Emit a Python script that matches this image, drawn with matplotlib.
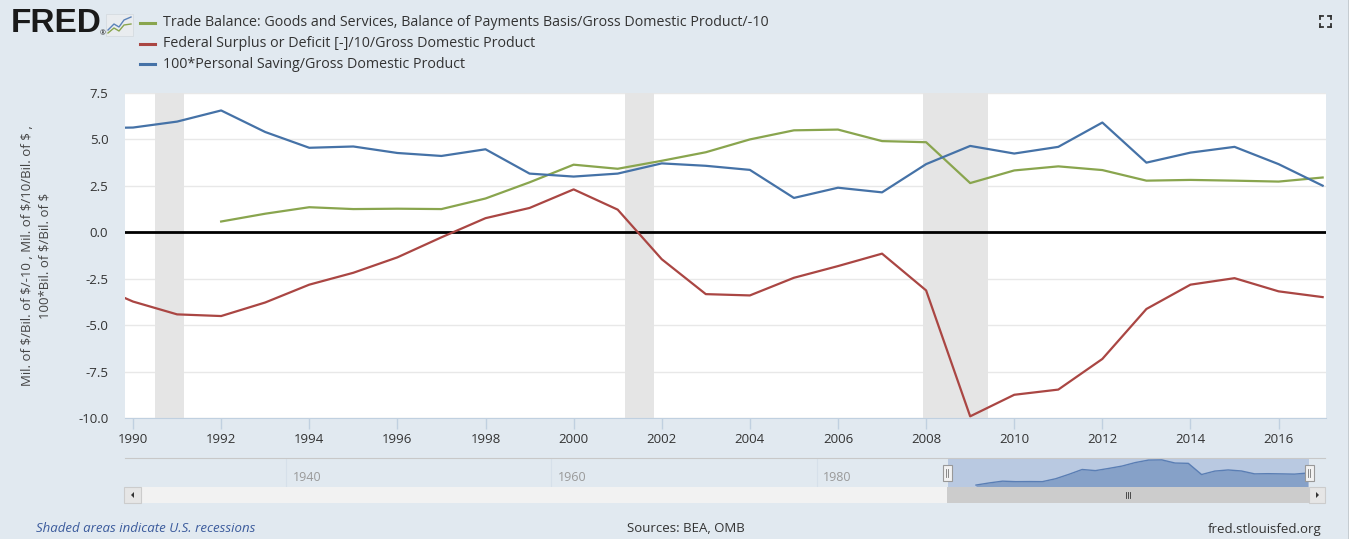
#!/usr/bin/env python3
"""FRED style chart: trade balance, federal surplus/deficit, personal saving (% of GDP)."""

import matplotlib
matplotlib.use("Agg")
import matplotlib.pyplot as plt
from matplotlib.patches import Rectangle, Polygon

W, H = 1349, 539
BG = "#e1e9f0"

# ---- data ----
years = list(range(1989, 2018))
deficit = [-2.70, -3.73, -4.42, -4.51, -3.78, -2.82, -2.18, -1.35, -0.27, 0.76,
           1.31, 2.31, 1.22, -1.45, -3.33, -3.40, -2.45, -1.82, -1.15, -3.13,
           -9.91, -8.75, -8.47, -6.82, -4.13, -2.82, -2.47, -3.18, -3.49]
saving = [5.60, 5.64, 5.96, 6.56, 5.40, 4.55, 4.62, 4.27, 4.11, 4.47,
          3.16, 3.00, 3.16, 3.71, 3.58, 3.36, 1.85, 2.40, 2.15, 3.67,
          4.65, 4.24, 4.60, 5.91, 3.75, 4.29, 4.60, 3.67, 2.51]
trade_years = list(range(1992, 2018))
trade = [0.58, 1.00, 1.35, 1.25, 1.27, 1.25, 1.82, 2.69, 3.64, 3.42,
         3.85, 4.31, 5.00, 5.49, 5.53, 4.91, 4.85, 2.65, 3.33, 3.55,
         3.35, 2.78, 2.82, 2.78, 2.73, 2.95]
recessions = [(1990.50, 1991.16), (2001.16, 2001.83), (2007.92, 2009.41)]

labels = [
    "Trade Balance: Goods and Services, Balance of Payments Basis/Gross Domestic Product/-10",
    "Federal Surplus or Deficit [-]/10/Gross Domestic Product",
    "100*Personal Saving/Gross Domestic Product",
]
colors = ["#89a54e", "#aa4643", "#4572a7"]
y_ticks = [-10.0, -7.5, -5.0, -2.5, 0.0, 2.5, 5.0, 7.5]
x_ticks = list(range(1990, 2017, 2))
nav_ticks = [1940, 1960, 1980, 2000]

plt.rcParams["font.family"] = ["Open Sans", "DejaVu Sans"]


def box(l, t, r, b):
    """pixel box -> figure fraction rect"""
    return [l / W, 1 - b / H, (r - l) / W, (b - t) / H]


fig = plt.figure(figsize=(W / 100, H / 100), dpi=100, facecolor=BG)

# ---- main plot ----
ax = fig.add_axes(box(125, 93, 1326, 418))
ax.set_facecolor("white")
for a, b in recessions:
    ax.axvspan(a, b, color="#e5e5e5", lw=0, zorder=1)
ax.axhline(0, color="black", lw=2, zorder=2)
ax.plot(trade_years, trade, color=colors[0], lw=1.6, zorder=3)
ax.plot(years, deficit, color=colors[1], lw=1.6, zorder=3)
ax.plot(years, saving, color=colors[2], lw=1.6, zorder=3)
ax.set_xlim(1989.818, 2017.076)
ax.set_ylim(-10, 7.5)
ax.set_yticks(y_ticks)
ax.set_yticklabels([f"{v:.1f}" for v in y_ticks])
ax.set_xticks(x_ticks)
ax.grid(axis="y", color="#e8e8e8", lw=1)
ax.set_axisbelow(True)
for s in ["top", "right", "left"]:
    ax.spines[s].set_visible(False)
ax.spines["bottom"].set_color("#c0d0e0")
ax.tick_params(axis="y", length=0, pad=12, labelsize=9.5, labelcolor="#333333")
ax.tick_params(axis="x", length=8, width=1, color="#c0d0e0", pad=3,
               labelsize=9.5, labelcolor="#333333")
ax.set_ylabel("Mil. of \\$/Bil. of \\$/-10 , Mil. of \\$/10/Bil. of \\$ ,\n100*Bil. of \\$/Bil. of \\$",
              fontsize=9.5, color="#444444", labelpad=19, linespacing=1.45)

# ---- navigator ----
nav = fig.add_axes(box(125, 458, 1325, 487))
nav.set_facecolor(BG)
nav.set_xlim(1927.87, 2018.3)
nav.set_ylim(0.2, 5.9)
for t in nav_ticks:
    nav.axvline(t, color="#d6e0ea", lw=0.8, zorder=0)
    nav.text(t + 0.5, 2.0, str(t), color="#999999", fontsize=9, va="center", ha="left", zorder=1)
nav.axvspan(1989.9, 2017.1, color="#b9c9e1", lw=0, zorder=2)
nav.fill_between(trade_years, trade, 0.2, color="#86a1c8", lw=0, zorder=3)
nav.plot(trade_years, trade, color="#5a7eb4", lw=1, zorder=4)
nav.set_xticks([])
nav.set_yticks([])
for s in nav.spines.values():
    s.set_visible(False)
nav.spines["top"].set_visible(True)
nav.spines["top"].set_color("#c8c8c8")

# ---- overlay in pixel coords for decorations ----
ov = fig.add_axes([0, 0, 1, 1], facecolor="none")
ov.set_xlim(0, W)
ov.set_ylim(H, 0)
ov.axis("off")

# handles of navigator
for hx in (947, 1309):
    ov.add_patch(Rectangle((hx - 4.5, 465), 9, 16, fc="#f2f2f2", ec="#999999", lw=0.8, zorder=5))
    ov.plot([hx - 1.2, hx - 1.2], [469, 477], color="#777777", lw=0.6, zorder=6)
    ov.plot([hx + 1.2, hx + 1.2], [469, 477], color="#777777", lw=0.6, zorder=6)

# scrollbar
ov.add_patch(Rectangle((141, 487), 806, 16, fc="#f2f2f2", ec="none", zorder=2))
ov.add_patch(Rectangle((947, 487), 362, 16, fc="#cccccc", ec="none", zorder=2))
for gx in (-2, 0, 2):
    ov.plot([1128 + gx, 1128 + gx], [492, 498], color="#333333", lw=0.6, zorder=3)
ov.add_patch(Rectangle((124, 487), 17, 16, fc="#e6e6e6", ec="#cccccc", lw=0.8, zorder=3))
ov.add_patch(Rectangle((1309, 487), 16, 16, fc="#e6e6e6", ec="#cccccc", lw=0.8, zorder=3))
ov.add_patch(Polygon([(134, 492), (134, 498), (131, 495)], closed=True, fc="#333333", zorder=4))
ov.add_patch(Polygon([(1316, 492), (1316, 498), (1319, 495)], closed=True, fc="#333333", zorder=4))

# FRED logo
ov.text(11, 24, "FRED", fontsize=24, fontweight="bold", family=["Liberation Sans", "DejaVu Sans"],
        color="#1a1a1a", va="center", ha="left")
ov.text(100, 34, "®", fontsize=5, color="#1a1a1a", va="center", ha="left")
ov.add_patch(Rectangle((106, 14), 27, 22, fc="#e9ecef", ec="#d5dbe0", lw=0.6, zorder=2))
ov.plot([108, 114, 119, 124, 131], [30, 24, 27, 20, 17], color="#5b82b8", lw=1, zorder=3)
ov.plot([108, 114, 119, 124, 131], [33, 28, 31, 25, 24], color="#89a54e", lw=1, zorder=3)

# legend
for i, (lab, c) in enumerate(zip(labels, colors)):
    yy = 23 + i * 20.5
    ov.plot([140, 155], [yy, yy], color=c, lw=2.2)
    ov.text(163, yy, lab, fontsize=10.3, color="#333333", va="center", ha="left")

# fullscreen icon
for cx, cy, dx, dy in [(1320, 16, 1, 1), (1331, 16, -1, 1), (1320, 27, 1, -1), (1331, 27, -1, -1)]:
    ov.plot([cx, cx + 3 * dx], [cy, cy], color="#333333", lw=1.3)
    ov.plot([cx, cx], [cy, cy + 3 * dy], color="#333333", lw=1.3)
ov.plot([1348.5, 1348.5], [0, H], color="#555555", lw=1)

# footer
ov.text(36, 529, "Shaded areas indicate U.S. recessions", fontsize=9.5, style="italic",
        color="#3a5a9c", va="center", ha="left")
ov.text(686, 529, "Sources: BEA, OMB", fontsize=9.5, color="#333333", va="center", ha="center")
ov.text(1321, 529, "fred.stlouisfed.org", fontsize=9.5, color="#333333", va="center", ha="right")

fig.savefig("out.png", dpi=100, facecolor=BG)
